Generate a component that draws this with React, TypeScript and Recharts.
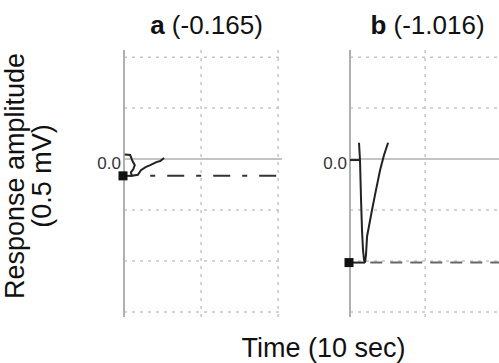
import React from "react";
import { LineChart, Line, XAxis, YAxis, ReferenceLine } from "recharts";

// axes (time in sec, amplitude in mV)
const X_DOMAIN: [number, number] = [0, 20.5];
const Y_DOMAIN: [number, number] = [-1.55, 1.07];
const gridY = [1, 0.5, -0.5, -1, -1.5];
const gridX = [10, 20];

const minA = -0.165;
const minB = -1.016;

// panel a trace
const traceA = [
  { t: 0.1, v: 0.045 },
  { t: 0.8, v: 0.04 },
  { t: 1.1, v: -0.02 },
  { t: 1.4, v: -0.06 },
  { t: 1.2, v: -0.1 },
  { t: 0.9, v: -0.13 },
  { t: 1.0, v: -0.165 },
  { t: 1.8, v: -0.155 },
  { t: 2.2, v: -0.11 },
  { t: 2.8, v: -0.08 },
  { t: 3.4, v: -0.06 },
  { t: 4.2, v: -0.03 },
  { t: 4.7, v: -0.02 },
  { t: 5.2, v: 0.01 },
];

// panel b trace
const traceB = [
  { t: 1.2, v: 0.16 },
  { t: 1.33, v: -0.01 },
  { t: 1.47, v: -0.4 },
  { t: 1.6, v: -0.7 },
  { t: 1.73, v: -0.89 },
  { t: 1.87, v: -0.99 },
  { t: 2.0, v: -1.016 },
  { t: 2.13, v: -0.94 },
  { t: 2.27, v: -0.76 },
  { t: 2.93, v: -0.5 },
  { t: 3.47, v: -0.3 },
  { t: 4.0, v: -0.11 },
  { t: 4.53, v: 0.04 },
  { t: 5.07, v: 0.16 },
];
const tickB = [
  { t: 0, v: -0.01 },
  { t: 1.2, v: -0.01 },
];

const markerA = [
  { t: 0, v: minA },
  { t: 1.0, v: minA },
];
const markerB = [
  { t: 0, v: minB },
  { t: 2.0, v: minB },
];
const levelA = [
  { t: 3.4, v: minA },
  { t: 20.5, v: minA },
];
const levelB = [
  { t: 2.7, v: minB },
  { t: 20.5, v: minB },
];

const FONT = "'Liberation Sans', Arial, sans-serif";

const squareDot = (props: any) => {
  const { cx, cy, index } = props;
  if (index !== 0) return <g key={`sq${index}`} />;
  return <rect key={`sq${index}`} x={cx - 5.5} y={cy - 4.5} width={9} height={9} fill="#111" />;
};

const zeroLabel = (props: any) => {
  const vb = props.viewBox || {};
  return (
    <text x={vb.x - 3} y={vb.y + 10} textAnchor="end" fontSize={17} fill="#333" fontFamily={FONT}>
      0.0
    </text>
  );
};

interface PanelProps {
  left: number;
  width: number;
  margin: { top: number; right: number; bottom: number; left: number };
  trace: { t: number; v: number }[];
  marker: { t: number; v: number }[];
  level: { t: number; v: number }[];
  levelDash: string;
  levelColor: string;
  tick?: { t: number; v: number }[];
}

function Panel({ left, width, margin, trace, marker, level, levelDash, levelColor, tick }: PanelProps) {
  return (
    <div style={{ position: "absolute", left, top: 40 }}>
      <LineChart width={width} height={290} margin={margin}>
        <XAxis type="number" dataKey="t" domain={X_DOMAIN} hide />
        <YAxis type="number" dataKey="v" domain={Y_DOMAIN} hide />
        {gridY.map((g) => (
          <ReferenceLine key={`gy${g}`} y={g} stroke="#c6c6c6" strokeWidth={1.5} strokeDasharray="3 5" />
        ))}
        {gridX.map((g) => (
          <ReferenceLine key={`gx${g}`} x={g} stroke="#c6c6c6" strokeWidth={1.5} strokeDasharray="3 5" />
        ))}
        <ReferenceLine y={0} stroke="#c4c4c4" strokeWidth={2} label={zeroLabel} />
        <ReferenceLine x={0} stroke="#b0b0b0" strokeWidth={2} />
        <Line
          data={level}
          dataKey="v"
          stroke={levelColor}
          strokeWidth={2}
          strokeDasharray={levelDash}
          dot={false}
          isAnimationActive={false}
        />
        {tick && (
          <Line data={tick} dataKey="v" stroke="#222" strokeWidth={2} dot={false} isAnimationActive={false} />
        )}
        <Line data={marker} dataKey="v" stroke="#222" strokeWidth={2} dot={squareDot} isAnimationActive={false} />
        <Line data={trace} dataKey="v" type="linear" stroke="#222" strokeWidth={2} dot={false} isAnimationActive={false} />
      </LineChart>
    </div>
  );
}

export default function App() {
  return (
    <div
      style={{
        position: "absolute",
        left: 0,
        top: 0,
        width: 499,
        height: 363,
        overflow: "hidden",
        background: "#fff",
        fontFamily: FONT,
      }}
    >
      <Panel
        left={80}
        width={210}
        margin={{ top: 10, right: 8, bottom: 13, left: 44 }}
        trace={traceA}
        marker={markerA}
        level={levelA}
        levelDash="5 12 17 12"
        levelColor="#333"
      />
      <Panel
        left={300}
        width={215}
        margin={{ top: 10, right: 11, bottom: 13, left: 50 }}
        trace={traceB}
        marker={markerB}
        level={levelB}
        levelDash="12 8"
        levelColor="#666"
        tick={tickB}
      />
      <svg
        width={499}
        height={363}
        style={{ position: "absolute", left: 0, top: 0, pointerEvents: "none" }}
        fontFamily={FONT}
      >
        <text x={206.5} y={34} textAnchor="middle" fontSize={26} fill="#111">
          <tspan fontWeight="bold">a</tspan>
          <tspan>{" (-0.165)"}</tspan>
        </text>
        <text x={427.5} y={34} textAnchor="middle" fontSize={26} fill="#111">
          <tspan fontWeight="bold">b</tspan>
          <tspan>{" (-1.016)"}</tspan>
        </text>
        <text x={323.5} y={357} textAnchor="middle" fontSize={27} fill="#111">
          Time (10 sec)
        </text>
        <text x={24} y={176} textAnchor="middle" fontSize={27} fill="#111" transform="rotate(-90 24 176)">
          Response amplitude
        </text>
        <text x={51} y={176} textAnchor="middle" fontSize={27} fill="#111" transform="rotate(-90 51 176)">
          (0.5 mV)
        </text>
      </svg>
    </div>
  );
}
